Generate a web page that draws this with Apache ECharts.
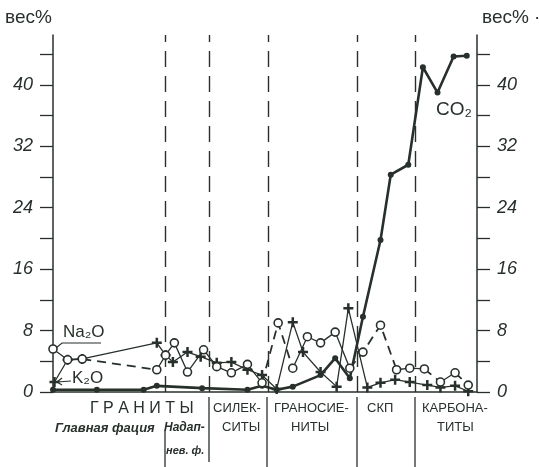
<!DOCTYPE html>
<html>
<head>
<meta charset="utf-8">
<script src="https://cdn.jsdelivr.net/npm/echarts@6/dist/echarts.min.js"></script>
<style>
  html, body { margin: 0; padding: 0; background: #ffffff; }
  #chart { width: 539px; height: 467px; }
</style>
</head>
<body>
<div id="chart"></div>
<script>
// Positions of samples along the profile (sample units) and oxide contents, wt.%
const na2oPos = [0, 1, 2, 7.1, 7.7, 8.3, 9.2, 10.3, 11.2, 12.2, 13.3, 14.3, 15.4, 16.4, 17.4, 18.3, 19.3, 20.3, 21.2, 22.4, 23.5, 24.4, 25.4, 26.5, 27.5, 28.4];
const na2oVal = [5.6, 4.2, 4.3, 2.9, 4.8, 6.4, 2.6, 5.5, 3.3, 2.5, 3.6, 1.2, 9.0, 3.1, 7.2, 6.4, 7.8, 3.1, 5.2, 8.7, 2.9, 3.1, 3.0, 1.3, 2.5, 0.9];
// 1 = dashed segment to the next sample, 0 = solid
const na2oDash = [0, 0, 1, 0, 0, 0, 0, 0, 0, 0, 0, 1, 1, 0, 0, 0, 0, 1, 1, 1, 0, 0, 1, 0, 1];

const k2oPos = [0.1, 1, 2, 7.1, 7.7, 8.2, 9.2, 10.1, 11.2, 12.2, 13.3, 14.3, 15.3, 16.4, 17.1, 18.3, 19.4, 20.2, 21.5, 22.4, 23.4, 24.4, 25.6, 26.5, 27.5, 28.4];
const k2oVal = [1.3, 4.2, 4.3, 6.4, 4.8, 3.9, 5.2, 4.6, 3.8, 3.9, 2.9, 2.2, 0.4, 9.1, 5.2, 2.6, 0.7, 10.9, 0.6, 1.2, 1.6, 1.3, 0.9, 0.6, 0.8, 0.1];

const co2Pos = [0, 3, 6.2, 7.1, 10.2, 13.3, 14.3, 15.3, 16.4, 18.3, 19.3, 20.3, 21.2, 22.4, 23.1, 24.3, 25.3, 26.3, 27.4, 28.3];
const co2Val = [0.3, 0.3, 0.3, 0.8, 0.5, 0.3, 0.8, 0.3, 0.7, 2.2, 4.4, 1.8, 9.8, 19.8, 28.3, 29.6, 42.3, 39.0, 43.7, 43.8];

// Rock-group boundaries along the profile
const boundaries = [7.7, 10.7, 14.7, 20.8, 24.8];

// Axis ticks
const tickValues = [0, 4, 8, 12, 16, 20, 24, 28, 32, 36, 40, 44];
const labelValues = [0, 8, 16, 24, 32, 40];

const ink = '#28302b';

function pairs(pos, val) {
  return pos.map((p, i) => [p, val[i]]);
}

// Collect the segments of one line style, separated by gaps
function segments(pos, val, flags, want) {
  const out = [];
  let lastEnd = -1;
  for (let i = 0; i < flags.length; i++) {
    if (flags[i] !== want) continue;
    if (lastEnd !== i) {
      if (out.length) out.push([pos[i], '-']);
      out.push([pos[i], val[i]]);
    }
    out.push([pos[i + 1], val[i + 1]]);
    lastEnd = i + 1;
  }
  return out;
}

const plusPath = 'path://M3,0H5V3H8V5H5V8H3V5H0V3H3Z';

function yAxisDef(position, margin) {
  return {
    type: 'value',
    position: position,
    min: 0,
    max: 46.5,
    interval: 4,
    axisLine: { show: true, onZero: false, lineStyle: { color: ink, width: 1.5 } },
    axisTick: { show: true, inside: false, length: 13, customValues: tickValues, lineStyle: { color: ink, width: 1.3 } },
    axisLabel: {
      customValues: labelValues,
      margin: margin,
      color: ink,
      fontStyle: 'italic',
      fontSize: 18,
      fontFamily: '"Liberation Sans", "DejaVu Sans", sans-serif'
    },
    splitLine: { show: false }
  };
}

const chart = echarts.init(document.getElementById('chart'), null, { renderer: 'canvas' });

const textFont = '"Liberation Sans", "DejaVu Sans", sans-serif';

function label(text, x, y, font) {
  return { type: 'text', left: x, top: y, silent: true, style: { text: text, font: font, fill: ink } };
}
function vline(x, y1, y2) {
  return { type: 'line', silent: true, shape: { x1: x, y1: y1, x2: x, y2: y2 }, style: { stroke: ink, lineWidth: 1.3 } };
}

const option = {
  backgroundColor: '#ffffff',
  animation: false,
  grid: { left: 53, right: 62, top: 35, bottom: 75, containLabel: false },
  xAxis: {
    type: 'value',
    min: 0,
    max: 29,
    axisLine: { show: true, onZero: false, lineStyle: { color: ink, width: 1.5 } },
    axisTick: { show: false },
    axisLabel: { show: false },
    splitLine: { show: false }
  },
  yAxis: [yAxisDef('left', 20), yAxisDef('right', 20)],
  series: [
    {
      name: 'boundaries',
      type: 'line',
      data: [],
      silent: true,
      markLine: {
        silent: true,
        symbol: 'none',
        label: { show: false },
        lineStyle: { color: ink, type: [16, 9], width: 1.4 },
        data: boundaries.map(b => ({ xAxis: b }))
      }
    },
    {
      name: 'CO₂',
      type: 'line',
      data: pairs(co2Pos, co2Val),
      symbol: 'circle',
      symbolSize: 6,
      lineStyle: { color: ink, width: 2.6 },
      itemStyle: { color: ink },
      z: 3
    },
    {
      name: 'K₂O',
      type: 'line',
      data: pairs(k2oPos, k2oVal),
      symbol: plusPath,
      symbolSize: 10,
      lineStyle: { color: ink, width: 1.3 },
      itemStyle: { color: ink },
      z: 4
    },
    {
      name: 'Na₂O solid',
      type: 'line',
      data: segments(na2oPos, na2oVal, na2oDash, 0),
      showSymbol: false,
      connectNulls: false,
      lineStyle: { color: ink, width: 1.3 },
      z: 4
    },
    {
      name: 'Na₂O dashed',
      type: 'line',
      data: segments(na2oPos, na2oVal, na2oDash, 1),
      showSymbol: false,
      connectNulls: false,
      lineStyle: { color: ink, width: 1.8, type: [9, 6] },
      z: 4
    },
    {
      name: 'Na₂O',
      type: 'scatter',
      data: pairs(na2oPos, na2oVal),
      symbol: 'circle',
      symbolSize: 8,
      itemStyle: { color: '#ffffff', borderColor: ink, borderWidth: 1.6, opacity: 1 },
      z: 5
    }
  ],
  graphic: [
    label('вес%', 5, 8, '19px "Liberation Sans", sans-serif'),
    label('вес% ·', 482, 8, '19px "Liberation Sans", sans-serif'),
    label('CO₂', 436, 100, '19px "Liberation Sans", sans-serif'),
    label('Na₂O', 63, 324, '17px "Liberation Sans", sans-serif'),
    label('K₂O', 72, 370, '17px "Liberation Sans", sans-serif'),
    { type: 'polyline', silent: true, shape: { points: [[56, 348], [62, 343], [101, 343]] }, style: { stroke: ink, fill: null, lineWidth: 1.1 } },
    { type: 'line', silent: true, shape: { x1: 57, y1: 382, x2: 71, y2: 381 }, style: { stroke: ink, lineWidth: 1.2 } },
    { type: 'polyline', silent: true, shape: { points: [[62, 378], [57, 382], [62, 385]] }, style: { stroke: ink, fill: null, lineWidth: 1.2 } },

    label('Г Р А Н И Т Ы', 90, 401, '16px ' + textFont),
    label('Главная фация', 55, 422, 'italic bold 13px ' + textFont),
    label('Надап-', 164, 422, 'italic bold 12px ' + textFont),
    label('нев. ф.', 166, 445, 'italic bold 11px ' + textFont),
    label('СИЛЕК-', 213, 402, '13px ' + textFont),
    label('СИТЫ', 222, 421, '13px ' + textFont),
    label('ГРАНОСИЕ-', 274, 402, '13px ' + textFont),
    label('НИТЫ', 291, 421, '13px ' + textFont),
    label('СКП', 367, 402, '13px ' + textFont),
    label('КАРБОНА-', 422, 402, '13px ' + textFont),
    label('ТИТЫ', 437, 421, '13px ' + textFont),

    vline(165, 430, 467),
    vline(209, 397, 462),
    vline(267, 397, 467),
    vline(357, 397, 467),
    vline(415, 397, 467)
  ]
};

chart.setOption(option);
</script>
</body>
</html>
